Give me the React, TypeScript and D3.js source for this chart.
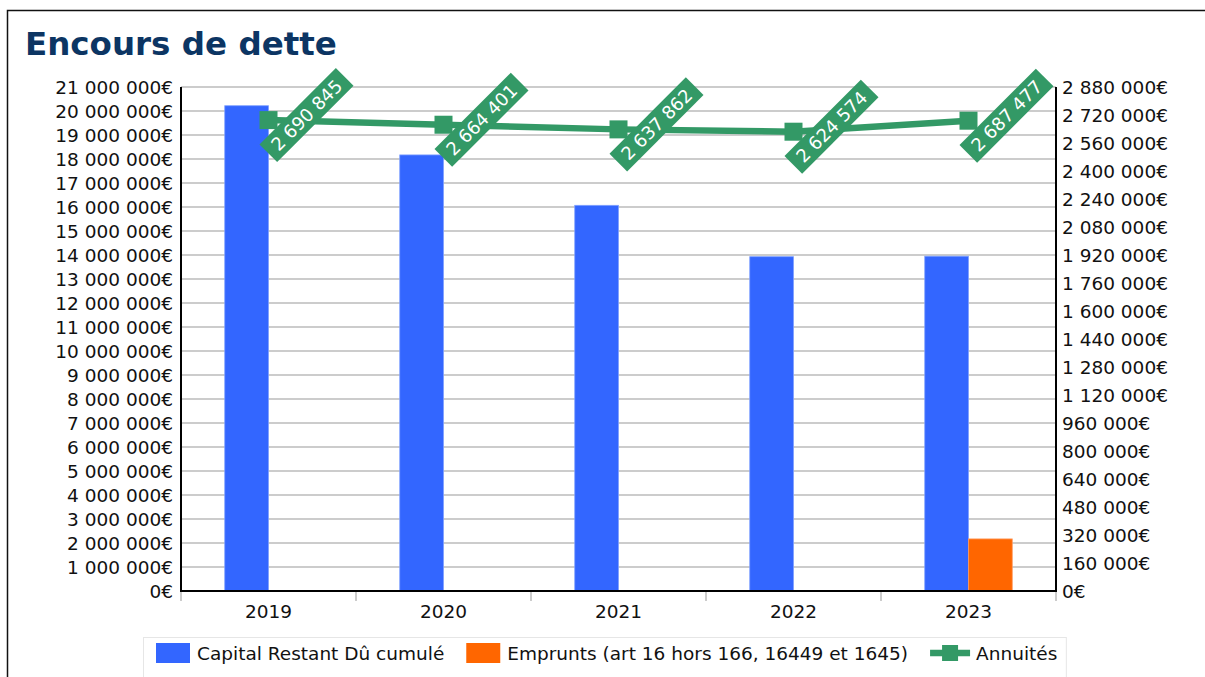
import React, { useEffect, useRef } from "react";
import * as d3 from "d3";

// Years on the category axis
const categories = ["2019", "2020", "2021", "2022", "2023"];
// Capital restant dû cumulé (left axis, €)
const capital = [20220000, 18170000, 16070000, 13930000, 13950000];
// Emprunts (left axis, €)
const emprunts = [0, 0, 0, 0, 2170000];
// Annuités (right axis, €)
const annuites = [2690845, 2664401, 2637862, 2624574, 2687477];
// Axis tick values
const leftTicks = d3.range(0, 21000001, 1000000);
const rightTicks = d3.range(0, 2880001, 160000);

const seriesNames = [
  "Capital Restant Dû cumulé",
  "Emprunts (art 16 hors 166, 16449 et 1645)",
  "Annuités",
];

const BLUE = "#3366ff";
const ORANGE = "#ff6600";
const GREEN = "#339966";
const FONT = "DejaVu Sans, Verdana, sans-serif";

const W = 1205;
const H = 677;
const plot = { left: 181, right: 1056, top: 87, bottom: 591 };

const locale = d3.formatLocale({
  decimal: ",",
  thousands: " ",
  grouping: [3],
  currency: ["", "€"],
});
const fmtEuro = (v: number) => locale.format(",d")(v) + "€";
const fmtNum = (v: number) => locale.format(",d")(v);

export default function App() {
  const ref = useRef<SVGSVGElement | null>(null);

  useEffect(() => {
    const svg = d3.select(ref.current);
    svg.selectAll("*").remove();

    const x = d3
      .scaleBand<string>()
      .domain(categories)
      .range([plot.left, plot.right])
      .padding(0);
    const yL = d3.scaleLinear().domain([0, 21000000]).range([plot.bottom, plot.top]);
    const yR = d3.scaleLinear().domain([0, 2880000]).range([plot.bottom, plot.top]);
    const bw = x.bandwidth() / 4;
    const cx = (c: string) => (x(c) as number) + x.bandwidth() / 2;

    // outer frame
    svg
      .append("rect")
      .attr("x", 7.5)
      .attr("y", 10.5)
      .attr("width", 1400)
      .attr("height", 900)
      .attr("fill", "white")
      .attr("stroke", "#111")
      .attr("stroke-width", 1.5);

    // title
    svg
      .append("text")
      .attr("x", 25)
      .attr("y", 55)
      .attr("font-family", FONT)
      .attr("font-weight", "bold")
      .attr("font-size", 32.5)
      .attr("fill", "#0c3563")
      .text("Encours de dette");

    // gridlines
    svg
      .append("g")
      .selectAll("line")
      .data(leftTicks)
      .join("line")
      .attr("x1", plot.left)
      .attr("x2", plot.right)
      .attr("y1", (d) => yL(d))
      .attr("y2", (d) => yL(d))
      .attr("stroke", "#cccccc")
      .attr("stroke-width", 2);

    // bars
    svg
      .append("g")
      .selectAll("rect")
      .data(categories.map((c, i) => ({ c, v: capital[i] })))
      .join("rect")
      .attr("x", (d) => cx(d.c) - bw)
      .attr("y", (d) => yL(d.v))
      .attr("width", bw)
      .attr("height", (d) => plot.bottom - yL(d.v))
      .attr("fill", BLUE)
      .attr("stroke", "#7fa0ff")
      .attr("stroke-width", 0.8);

    svg
      .append("g")
      .selectAll("rect")
      .data(categories.map((c, i) => ({ c, v: emprunts[i] })).filter((d) => d.v > 0))
      .join("rect")
      .attr("x", (d) => cx(d.c))
      .attr("y", (d) => yL(d.v))
      .attr("width", bw)
      .attr("height", (d) => plot.bottom - yL(d.v))
      .attr("fill", ORANGE)
      .attr("stroke", "#ff9a5c")
      .attr("stroke-width", 0.8);

    // axes lines
    const axes = svg.append("g").attr("stroke", "#000").attr("stroke-width", 2);
    axes
      .append("line")
      .attr("x1", plot.left)
      .attr("x2", plot.left)
      .attr("y1", plot.top)
      .attr("y2", plot.bottom + 1);
    axes
      .append("line")
      .attr("x1", plot.right)
      .attr("x2", plot.right)
      .attr("y1", plot.top)
      .attr("y2", plot.bottom + 1);
    axes
      .append("line")
      .attr("x1", plot.left)
      .attr("x2", plot.right)
      .attr("y1", plot.bottom)
      .attr("y2", plot.bottom);

    // category boundary ticks
    const bounds = categories.map((c) => x(c) as number).concat([plot.right]);
    svg
      .append("g")
      .selectAll("line")
      .data(bounds)
      .join("line")
      .attr("x1", (d) => d)
      .attr("x2", (d) => d)
      .attr("y1", plot.bottom + 1)
      .attr("y2", plot.bottom + 10)
      .attr("stroke", "#bbbbbb")
      .attr("stroke-width", 1.5);

    // x labels
    svg
      .append("g")
      .selectAll("text")
      .data(categories)
      .join("text")
      .attr("x", (d) => cx(d))
      .attr("y", 618)
      .attr("text-anchor", "middle")
      .attr("font-family", FONT)
      .attr("font-size", 18.5)
      .attr("fill", "#111")
      .text((d) => d);

    // left labels
    svg
      .append("g")
      .selectAll("text")
      .data(leftTicks)
      .join("text")
      .attr("x", 173)
      .attr("y", (d) => yL(d))
      .attr("dy", "0.36em")
      .attr("text-anchor", "end")
      .attr("font-family", FONT)
      .attr("font-size", 18.5)
      .attr("fill", "#111")
      .text((d) => fmtEuro(d));

    // right labels
    svg
      .append("g")
      .selectAll("text")
      .data(rightTicks)
      .join("text")
      .attr("x", 1062)
      .attr("y", (d) => yR(d))
      .attr("dy", "0.36em")
      .attr("text-anchor", "start")
      .attr("font-family", FONT)
      .attr("font-size", 18.5)
      .attr("fill", "#111")
      .text((d) => fmtEuro(d));

    // annuités line
    const pts = categories.map((c, i) => ({ c, v: annuites[i] }));
    const line = d3
      .line<{ c: string; v: number }>()
      .x((d) => cx(d.c))
      .y((d) => yR(d.v));
    svg
      .append("path")
      .datum(pts)
      .attr("d", line)
      .attr("fill", "none")
      .attr("stroke", GREEN)
      .attr("stroke-width", 6.5);
    svg
      .append("g")
      .selectAll("rect")
      .data(pts)
      .join("rect")
      .attr("x", (d) => cx(d.c) - 9)
      .attr("y", (d) => yR(d.v) - 9)
      .attr("width", 18)
      .attr("height", 18)
      .attr("fill", GREEN);

    // value labels
    const lab = svg
      .append("g")
      .selectAll("g")
      .data(pts)
      .join("g")
      .attr("transform", (d) => `translate(${cx(d.c) + 38},${yR(d.v) - 5}) rotate(-45)`);
    lab
      .append("rect")
      .attr("x", -54)
      .attr("y", -12.5)
      .attr("width", 108)
      .attr("height", 25)
      .attr("fill", GREEN);
    lab
      .append("text")
      .attr("text-anchor", "middle")
      .attr("dy", "0.36em")
      .attr("font-family", FONT)
      .attr("font-size", 18)
      .attr("fill", "white")
      .text((d) => fmtNum(d.v));

    // legend
    const lg = svg.append("g");
    const box = lg
      .append("rect")
      .attr("y", 637.5)
      .attr("height", 40)
      .attr("fill", "white")
      .attr("stroke", "#e6e6e6")
      .attr("stroke-width", 1);
    let lx = 156;
    const ly = 653;
    const colors = [BLUE, ORANGE];
    seriesNames.forEach((name, i) => {
      if (i < 2) {
        lg.append("rect")
          .attr("x", lx)
          .attr("y", ly - 10)
          .attr("width", 34)
          .attr("height", 20)
          .attr("fill", colors[i]);
        lx += 41;
      } else {
        lg.append("line")
          .attr("x1", lx)
          .attr("x2", lx + 40)
          .attr("y1", ly)
          .attr("y2", ly)
          .attr("stroke", GREEN)
          .attr("stroke-width", 6.5);
        lg.append("rect")
          .attr("x", lx + 12)
          .attr("y", ly - 8)
          .attr("width", 16)
          .attr("height", 16)
          .attr("fill", GREEN);
        lx += 46;
      }
      const t = lg
        .append("text")
        .attr("x", lx)
        .attr("y", ly)
        .attr("dy", "0.36em")
        .attr("font-family", FONT)
        .attr("font-size", 18.5)
        .attr("fill", "#111")
        .text(name);
      const tw = (t.node() as SVGTextElement).getComputedTextLength();
      lx += tw + 22;
    });
    box.attr("x", 143.5).attr("width", lx - 22 + 9 - 143.5);
  }, []);

  return (
    <svg
      ref={ref}
      width={W}
      height={H}
      style={{ position: "fixed", left: 0, top: 0, background: "white" }}
    />
  );
}
